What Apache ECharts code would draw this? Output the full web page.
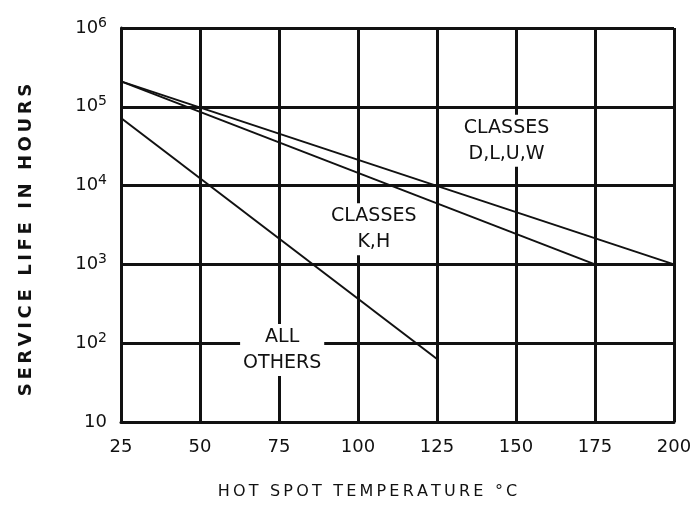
<!DOCTYPE html>
<html>
<head>
<meta charset="utf-8">
<script src="https://cdn.jsdelivr.net/npm/echarts@6/dist/echarts.min.js"></script>
<style>
  html,body{margin:0;padding:0;background:#fff;}
  #chart{width:695px;height:525px;}
</style>
</head>
<body>
<div id="chart"></div>
<script>
var xTicks=[25,50,75,100,125,150,175,200];
var tempsDLUW=[25,200];
var lifeDLUW=[210000,1000];
var tempsKH=[25,175];
var lifeKH=[210000,1000];
var tempsOther=[25,125];
var lifeOther=[72000,63];
var noteText=["CLASSES\nD,L,U,W","CLASSES\nK,H","ALL\nOTHERS"];
var noteTemp=[147,105,76];
var noteLife=[37000,2800,82];

function pairs(xs,ys){
	var out=[];
	for(var i=0;i<xs.length;i++){out.push([xs[i],ys[i]]);}
	return out;
}
// spread letters a bit, like hand lettering
function spaced(s){
	return s.split('').join('\u2009');
}

var font='"DejaVu Sans", "Liberation Sans", sans-serif';
var lineStyle={color:'#111',width:2};
function curve(name,xs,ys){
	return {
		name:name,
		type:'line',
		data:pairs(xs,ys),
		symbol:'none',
		lineStyle:lineStyle,
		silent:true,
		z:3
	};
}

var notes=[];
for(var i=0;i<noteText.length;i++){
	notes.push({value:[noteTemp[i],noteLife[i]],label:{formatter:noteText[i]}});
}

var myChart=echarts.init(document.getElementById('chart'));
var option={
	backgroundColor:'#fff',
	animation:false,
	grid:{left:121,right:21,top:28,bottom:103},
	xAxis:{
		type:'value',
		min:25,
		max:200,
		interval:25,
		name:spaced('HOT SPOT TEMPERATURE °C'),
		nameLocation:'middle',
		nameGap:62,
		nameTextStyle:{fontFamily:font,fontSize:16,color:'#111',padding:[0,60,0,0]},
		axisLine:{lineStyle:{color:'#111',width:3}},
		axisTick:{show:false},
		axisLabel:{fontFamily:font,fontSize:18,color:'#111',margin:16},
		splitLine:{lineStyle:{color:'#111',width:3}}
	},
	yAxis:{
		type:'log',
		logBase:10,
		min:10,
		max:1000000,
		name:spaced('SERVICE LIFE IN HOURS'),
		nameLocation:'middle',
		nameGap:86,
		nameTextStyle:{fontFamily:font,fontSize:18,fontWeight:'bold',color:'#111',padding:[0,0,0,-30]},
		axisLine:{show:true,lineStyle:{color:'#111',width:3}},
		axisTick:{show:false},
		axisLabel:{
			fontFamily:font,fontSize:18,color:'#111',margin:14,
			formatter:function(v){
				var e=Math.round(Math.log10(v));
				if(e===1){return '10';}
				return '10{sup|'+e+'}';
			},
			rich:{sup:{fontFamily:font,fontSize:14,color:'#111',verticalAlign:'top',padding:[0,0,10,0]}}
		},
		splitLine:{lineStyle:{color:'#111',width:3}}
	},
	series:[
		curve('D,L,U,W',tempsDLUW,lifeDLUW),
		curve('K,H',tempsKH,lifeKH),
		curve('All others',tempsOther,lifeOther),
		{
			type:'scatter',
			data:notes,
			symbolSize:0,
			silent:true,
			itemStyle:{opacity:1},
			z:5,
			label:{
				show:true,
				position:'inside',
				fontFamily:font,
				fontSize:19,
				lineHeight:26,
				color:'#111',
				opacity:1,
				align:'center',
				backgroundColor:'#fff',
				padding:[0,3]
			}
		}
	]
};
myChart.setOption(option);
</script>
</body>
</html>
